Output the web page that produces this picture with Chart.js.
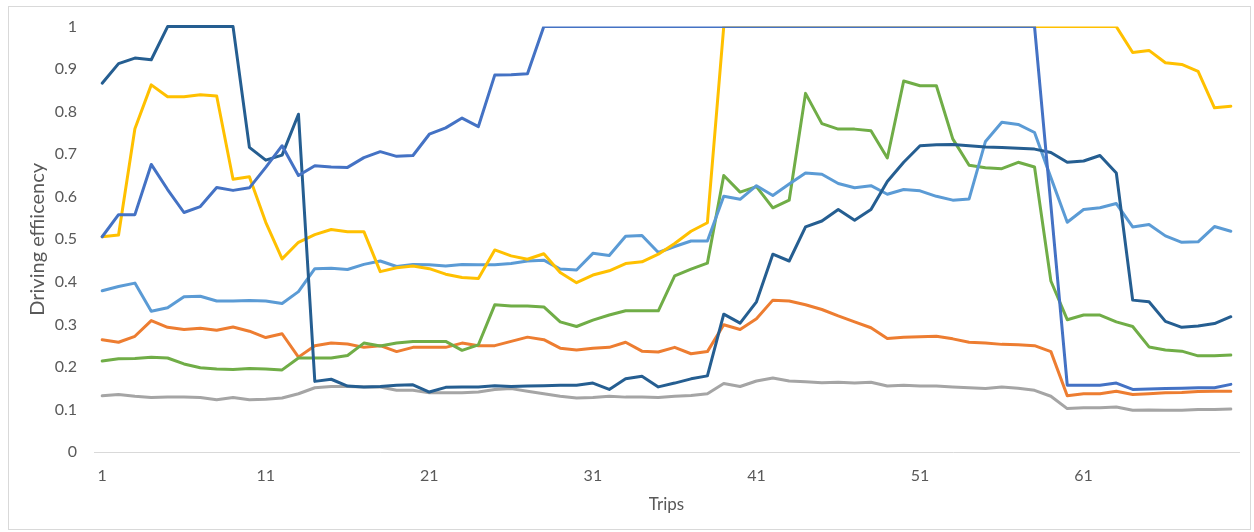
<!DOCTYPE html>
<html>
<head>
<meta charset="utf-8">
<title>Driving efficiency per trip</title>
<script src="https://cdn.jsdelivr.net/npm/chart.js@4"></script>
<style>
  html, body { margin: 0; padding: 0; background: #ffffff; }
  #wrap { position: relative; width: 1254px; height: 532px; }
  canvas { display: block; }
</style>
</head>
<body>
<div id="wrap"><canvas id="chart" width="1254" height="532"></canvas></div>
<script>
// Trip numbers along the category axis
const trips = [
  '1','2','3','4','5','6','7','8','9','10',
  '11','12','13','14','15','16','17','18','19','20',
  '21','22','23','24','25','26','27','28','29','30',
  '31','32','33','34','35','36','37','38','39','40',
  '41','42','43','44','45','46','47','48','49','50',
  '51','52','53','54','55','56','57','58','59','60',
  '61','62','63','64','65','66','67','68','69','70'
];

// Labelled trips on the horizontal axis
const xTickLabels = ['1','11','21','31','41','51','61'];

// Vertical axis ticks
const yTicks = [0, 0.1, 0.2, 0.3, 0.4, 0.5, 0.6, 0.7, 0.8, 0.9, 1];

// Driving efficiency of each driver, one value per trip
const seriesBlue = [
  0.506,0.558,0.558,0.676,0.617,0.563,0.577,0.622,0.615,0.621,
  0.669,0.720,0.650,0.673,0.670,0.669,0.692,0.706,0.695,0.697,
  0.747,0.762,0.785,0.765,0.886,0.887,0.889,1,1,1,
  1,1,1,1,1,1,1,1,1,1,
  1,1,1,1,1,1,1,1,1,1,
  1,1,1,1,1,1,1,1,0.58,0.157,
  0.157,0.157,0.162,0.147,0.148,0.149,0.150,0.151,0.151,0.159
];
const seriesOrange = [
  0.264,0.258,0.272,0.309,0.293,0.288,0.291,0.286,0.294,0.284,
  0.269,0.278,0.223,0.250,0.256,0.254,0.246,0.250,0.236,0.246,
  0.246,0.246,0.256,0.250,0.250,0.260,0.270,0.264,0.244,0.240,
  0.244,0.246,0.258,0.237,0.235,0.246,0.231,0.236,0.299,0.288,
  0.313,0.357,0.355,0.346,0.335,0.320,0.306,0.292,0.267,0.270,
  0.271,0.272,0.266,0.258,0.256,0.253,0.252,0.250,0.236,0.132,
  0.137,0.137,0.143,0.135,0.137,0.139,0.140,0.142,0.143,0.143
];
const seriesGray = [
  0.132,0.135,0.131,0.128,0.129,0.129,0.128,0.123,0.128,0.123,
  0.124,0.127,0.137,0.151,0.154,0.154,0.153,0.153,0.145,0.145,
  0.139,0.139,0.139,0.141,0.147,0.149,0.143,0.137,0.131,0.127,
  0.128,0.131,0.129,0.129,0.128,0.131,0.133,0.137,0.161,0.154,
  0.167,0.174,0.167,0.165,0.163,0.164,0.162,0.164,0.155,0.157,
  0.155,0.155,0.153,0.151,0.149,0.153,0.150,0.145,0.131,0.102,
  0.104,0.104,0.106,0.098,0.099,0.098,0.098,0.100,0.100,0.101
];
const seriesYellow = [
  0.506,0.510,0.760,0.863,0.835,0.835,0.840,0.837,0.641,0.647,
  0.540,0.454,0.493,0.511,0.523,0.518,0.518,0.424,0.433,0.437,
  0.431,0.418,0.410,0.408,0.475,0.461,0.453,0.466,0.422,0.398,
  0.416,0.426,0.443,0.447,0.465,0.490,0.519,0.539,1,1,
  1,1,1,1,1,1,1,1,1,1,
  1,1,1,1,1,1,1,1,1,1,
  1,1,1,0.939,0.944,0.915,0.911,0.895,0.809,0.813
];
const seriesLightBlue = [
  0.379,0.389,0.397,0.331,0.339,0.365,0.366,0.355,0.355,0.356,
  0.355,0.349,0.377,0.431,0.432,0.429,0.441,0.449,0.436,0.441,
  0.440,0.437,0.441,0.440,0.440,0.443,0.449,0.451,0.430,0.428,
  0.467,0.462,0.507,0.509,0.469,0.483,0.496,0.496,0.601,0.594,
  0.626,0.603,0.630,0.656,0.653,0.631,0.621,0.626,0.606,0.617,
  0.614,0.601,0.592,0.595,0.730,0.775,0.770,0.751,0.645,0.540,
  0.570,0.574,0.584,0.529,0.535,0.508,0.493,0.494,0.530,0.519
];
const seriesGreen = [
  0.214,0.219,0.220,0.223,0.221,0.207,0.198,0.195,0.194,0.196,
  0.195,0.193,0.221,0.221,0.221,0.227,0.256,0.249,0.256,0.260,
  0.260,0.260,0.239,0.252,0.346,0.343,0.343,0.341,0.306,0.295,
  0.310,0.322,0.332,0.332,0.332,0.414,0.430,0.444,0.650,0.611,
  0.624,0.574,0.592,0.843,0.772,0.759,0.759,0.755,0.691,0.872,
  0.861,0.861,0.736,0.674,0.668,0.666,0.681,0.670,0.402,0.311,
  0.322,0.322,0.306,0.295,0.247,0.240,0.237,0.226,0.226,0.228
];
const seriesNavy = [
  0.867,0.913,0.926,0.922,1,1,1,1,1,0.716,
  0.686,0.698,0.794,0.166,0.171,0.155,0.153,0.154,0.157,0.158,
  0.141,0.152,0.153,0.153,0.156,0.154,0.155,0.156,0.157,0.157,
  0.162,0.147,0.172,0.178,0.153,0.162,0.172,0.179,0.324,0.303,
  0.353,0.465,0.449,0.529,0.543,0.570,0.545,0.570,0.636,0.681,
  0.720,0.722,0.723,0.720,0.717,0.716,0.714,0.712,0.704,0.681,
  0.684,0.697,0.656,0.357,0.353,0.307,0.293,0.296,0.302,0.318
];

const textColor = '#595959';
const fontFamily = 'Lato, "Open Sans", "Liberation Sans", sans-serif';

function line(data, color, clip) {
  return {
    data: data,
    borderColor: color,
    backgroundColor: color,
    borderWidth: 3,
    pointRadius: 0,
    pointHoverRadius: 0,
    tension: 0,
    fill: false,
    borderJoinStyle: 'round',
    borderCapStyle: 'round',
    clip: clip
  };
}

// Light grey frame around the whole chart
const frame = {
  id: 'frame',
  beforeDraw(chart) {
    const ctx = chart.ctx;
    ctx.save();
    ctx.fillStyle = '#ffffff';
    ctx.fillRect(0, 0, chart.width, chart.height);
    ctx.strokeStyle = '#D9D9D9';
    ctx.lineWidth = 1;
    ctx.strokeRect(8.5, 6.5, 1242, 523);
    ctx.restore();
  }
};

new Chart(document.getElementById('chart'), {
  type: 'line',
  data: {
    labels: trips,
    // first dataset is painted last (on top)
    datasets: [
      line(seriesBlue, '#4472C4', 0),
      line(seriesNavy, '#255E91', false),
      line(seriesYellow, '#FFC000', 0),
      line(seriesLightBlue, '#5B9BD5', 0),
      line(seriesGreen, '#70AD47', 0),
      line(seriesOrange, '#ED7D31', 0),
      line(seriesGray, '#A5A5A5', 0)
    ]
  },
  options: {
    responsive: false,
    animation: false,
    events: [],
    layout: { padding: { top: 24, right: 15, left: 0, bottom: 0 } },
    plugins: {
      legend: { display: false },
      tooltip: { enabled: false },
      title: { display: false }
    },
    scales: {
      x: {
        type: 'category',
        offset: true,
        grid: { display: false, drawTicks: false },
        border: { display: true, color: '#D9D9D9', width: 1 },
        ticks: {
          autoSkip: false,
          maxRotation: 0,
          minRotation: 0,
          padding: 14,
          color: textColor,
          font: { family: fontFamily, size: 16 },
          callback: function (value) {
            const lbl = this.getLabelForValue(value);
            return xTickLabels.includes(lbl) ? lbl : '';
          }
        },
        title: {
          display: true,
          text: 'Trips',
          color: textColor,
          font: { family: fontFamily, size: 17 },
          padding: { top: 0, bottom: 17 }
        },
        afterFit(scale) { scale.height = 80; }
      },
      y: {
        min: 0,
        max: 1,
        grid: { display: false, drawTicks: false },
        border: { display: false },
        afterBuildTicks(scale) {
          scale.ticks = yTicks.map(v => ({ value: v }));
        },
        ticks: {
          padding: 17,
          color: textColor,
          font: { family: fontFamily, size: 16 },
          callback: v => String(v)
        },
        title: {
          display: true,
          text: 'Driving effiicency',
          color: textColor,
          font: { family: fontFamily, size: 20 },
          padding: { top: 26, bottom: 0 }
        },
        afterFit(scale) { scale.width = 94; }
      }
    }
  },
  plugins: [frame]
});
</script>
</body>
</html>
